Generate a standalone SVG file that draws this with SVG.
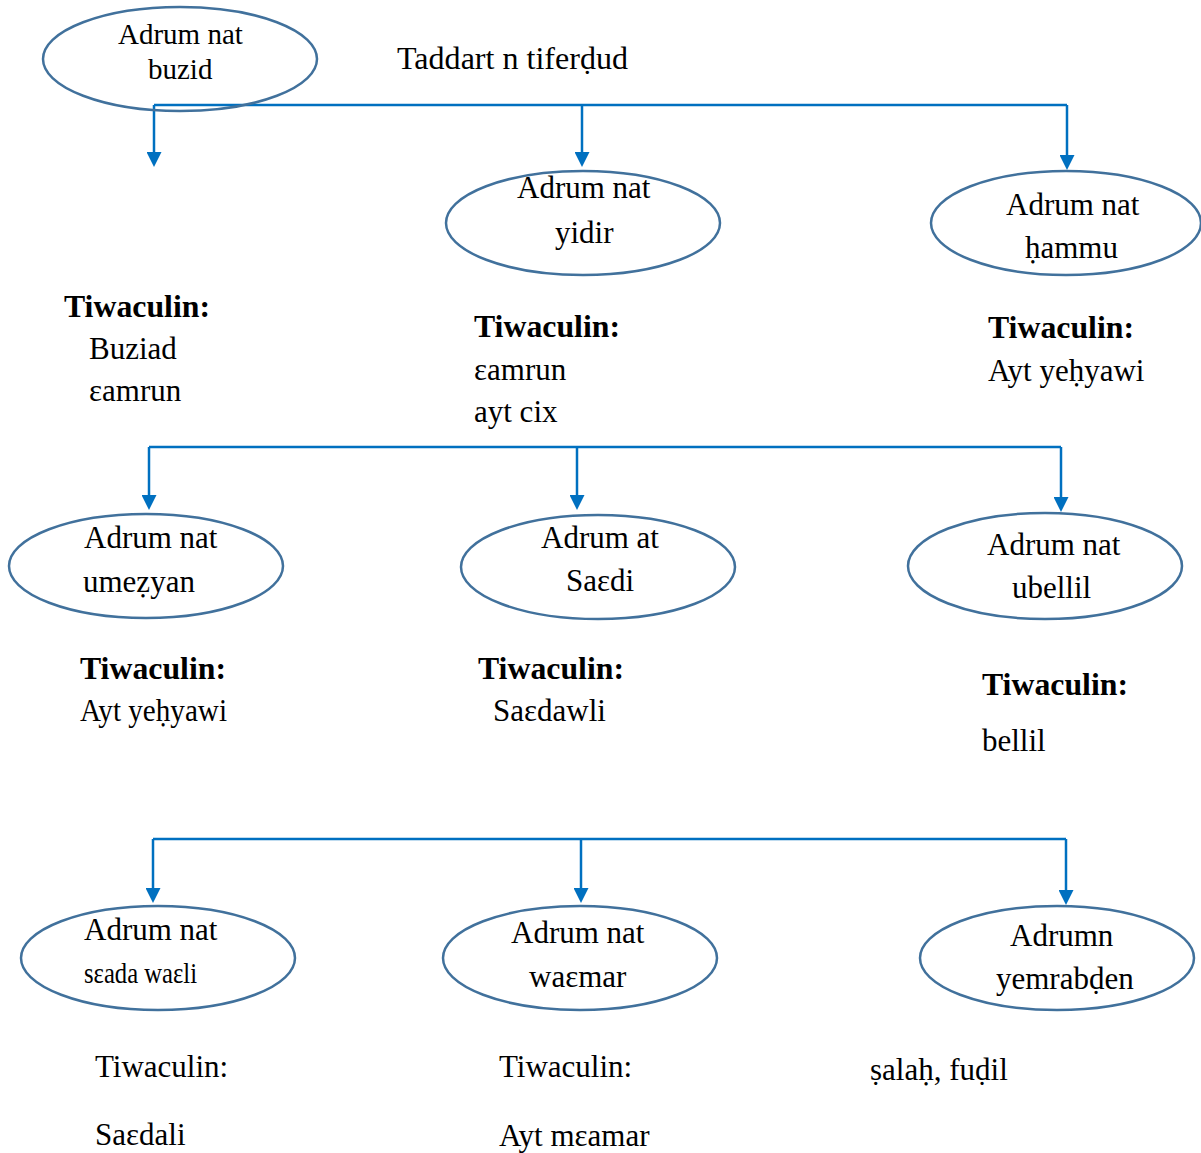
<svg xmlns="http://www.w3.org/2000/svg" width="1201" height="1153" viewBox="0 0 1201 1153">
<defs>
<style>
.node ellipse{fill:#fff;stroke:#41719C;stroke-width:2.5}
text{font-family:"Liberation Serif","DejaVu Serif","Times New Roman",serif;font-size:31px;fill:#000}
.b{font-weight:bold}
.sm{font-size:29px}
.conn path{fill:none;stroke:#0070C0;stroke-width:2.5}
</style>
<marker id="arr" viewBox="0 0 10 10" refX="6" refY="5" markerWidth="15" markerHeight="15" markerUnits="userSpaceOnUse" orient="auto">
<path d="M0,0 L10,5 L0,10 z" fill="#0070C0"/>
</marker>
</defs>
<rect width="1201" height="1153" fill="#fff"/>

<g id="connectors" class="conn">
<path d="M154,105 H1067"/>
<path d="M154,105 V161" marker-end="url(#arr)"/>
<path d="M582,105 V161" marker-end="url(#arr)"/>
<path d="M1067,105 V164" marker-end="url(#arr)"/>
<path d="M149,447 H1061"/>
<path d="M149,447 V504" marker-end="url(#arr)"/>
<path d="M577,447 V504" marker-end="url(#arr)"/>
<path d="M1061,447 V506" marker-end="url(#arr)"/>
<path d="M153,839 H1066"/>
<path d="M153,839 V897" marker-end="url(#arr)"/>
<path d="M581,839 V897" marker-end="url(#arr)"/>
<path d="M1066,839 V899" marker-end="url(#arr)"/>
</g>

<g id="node-buzid" class="node">
<ellipse cx="180" cy="59" rx="137" ry="52" style="fill:none"/>
<text class="sm" x="118" y="44">Adrum nat</text>
<text class="sm" x="148" y="79">buzid</text>
</g>
<text id="title" x="397" y="69" textLength="231" lengthAdjust="spacingAndGlyphs">Taddart n tiferḍud</text>

<g id="node-yidir" class="node">
<ellipse cx="583" cy="223" rx="137" ry="52"/>
<text x="517" y="198">Adrum nat</text>
<text x="555" y="243">yidir</text>
</g>
<g id="node-hammu" class="node">
<ellipse cx="1066" cy="223" rx="135" ry="52"/>
<text x="1006" y="215">Adrum nat</text>
<text x="1025" y="258">ḥammu</text>
</g>

<g id="desc-buzid">
<text class="b" x="64" y="317" textLength="146" lengthAdjust="spacingAndGlyphs">Tiwaculin:</text>
<text x="89" y="359">Buziad</text>
<text x="89" y="401">ɛamrun</text>
</g>
<g id="desc-yidir">
<text class="b" x="474" y="337" textLength="146" lengthAdjust="spacingAndGlyphs">Tiwaculin:</text>
<text x="474" y="380">ɛamrun</text>
<text x="474" y="422">ayt cix</text>
</g>
<g id="desc-hammu">
<text class="b" x="988" y="338" textLength="146" lengthAdjust="spacingAndGlyphs">Tiwaculin:</text>
<text x="988" y="381">Ayt yeḥyawi</text>
</g>

<g id="node-umezyan" class="node">
<ellipse cx="146" cy="566" rx="137" ry="52"/>
<text x="84" y="548">Adrum nat</text>
<text x="83" y="592">umeẓyan</text>
</g>
<g id="node-saedi" class="node">
<ellipse cx="598" cy="567" rx="137" ry="52"/>
<text x="541" y="548">Adrum at</text>
<text x="566" y="591">Saɛdi</text>
</g>
<g id="node-ubellil" class="node">
<ellipse cx="1045" cy="566" rx="137" ry="53"/>
<text x="987" y="555">Adrum nat</text>
<text x="1012" y="598">ubellil</text>
</g>

<g id="desc-umezyan">
<text class="b" x="80" y="679" textLength="146" lengthAdjust="spacingAndGlyphs">Tiwaculin:</text>
<text x="80" y="721" textLength="147" lengthAdjust="spacingAndGlyphs">Ayt yeḥyawi</text>
</g>
<g id="desc-saedi">
<text class="b" x="478" y="679" textLength="146" lengthAdjust="spacingAndGlyphs">Tiwaculin:</text>
<text x="493" y="721">Saɛdawli</text>
</g>
<g id="desc-ubellil">
<text class="b" x="982" y="695" textLength="146" lengthAdjust="spacingAndGlyphs">Tiwaculin:</text>
<text x="982" y="751">bellil</text>
</g>

<g id="node-seadawaeli" class="node">
<ellipse cx="158" cy="958" rx="137" ry="52"/>
<text x="84" y="940">Adrum nat</text>
<text x="84" y="983" style="font-size:30px" textLength="113" lengthAdjust="spacingAndGlyphs">sɛada waɛli</text>
</g>
<g id="node-waemar" class="node">
<ellipse cx="580" cy="958" rx="137" ry="52"/>
<text x="511" y="943">Adrum nat</text>
<text x="529" y="987">waɛmar</text>
</g>
<g id="node-yemrabden" class="node">
<ellipse cx="1057" cy="958" rx="137" ry="52"/>
<text x="1010" y="946">Adrumn</text>
<text x="996" y="989">yemrabḍen</text>
</g>

<g id="desc-seadawaeli">
<text x="95" y="1077">Tiwaculin:</text>
<text x="95" y="1145">Saɛdali</text>
</g>
<g id="desc-waemar">
<text x="499" y="1077">Tiwaculin:</text>
<text x="499" y="1146">Ayt mɛamar</text>
</g>
<g id="desc-yemrabden">
<text x="870" y="1080">ṣalaḥ, fuḍil</text>
</g>
</svg>
